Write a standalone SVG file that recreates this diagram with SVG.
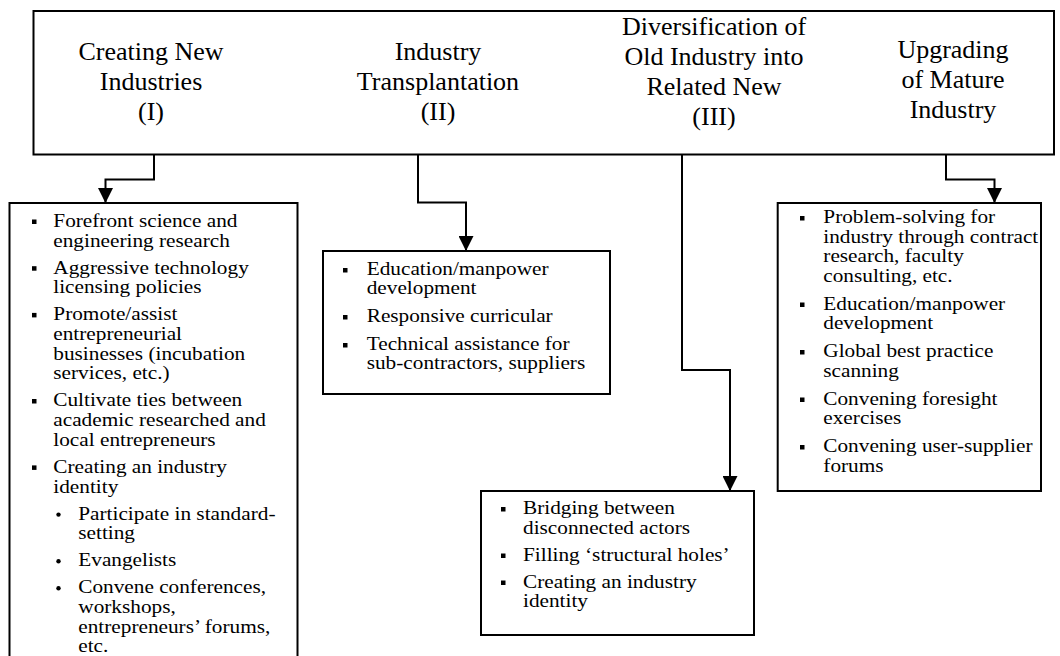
<svg xmlns="http://www.w3.org/2000/svg" width="1060" height="656" viewBox="0 0 1060 656">
  <style>
    .box { fill: #ffffff; stroke: #000000; stroke-width: 2; }
    .head { font-family: "Liberation Serif", "Times New Roman", serif; font-size: 26px; fill: #000000; text-anchor: middle; }
    .item { font-family: "Liberation Serif", "Times New Roman", serif; font-size: 19px; fill: #000000; }
    .link { fill: none; stroke: #000000; stroke-width: 2; marker-end: url(#arrow); }
    .sq { fill: #000000; }
  </style>
  <defs>
    <marker id="arrow" markerUnits="userSpaceOnUse" markerWidth="15" markerHeight="15" viewBox="0 0 14 14" refX="13" refY="7" orient="auto">
      <path d="M0,0 L14,7 L0,14 z" fill="#000000"/>
    </marker>
  </defs>
  <rect width="1060" height="656" fill="#ffffff"/>

  <!-- header bar with the four development paths -->
  <g id="paths-header">
    <rect class="box" x="33.5" y="11" width="1020.5" height="143.5"/>
    <text class="head"><tspan x="151" y="60">Creating New</tspan><tspan x="151" y="90">Industries</tspan><tspan x="151" y="120">(I)</tspan></text>
    <text class="head"><tspan x="438" y="60">Industry</tspan><tspan x="438" y="90">Transplantation</tspan><tspan x="438" y="120">(II)</tspan></text>
    <text class="head"><tspan x="714" y="35">Diversification of</tspan><tspan x="714" y="65">Old Industry into</tspan><tspan x="714" y="95">Related New</tspan><tspan x="714" y="125">(III)</tspan></text>
    <text class="head"><tspan x="953" y="58">Upgrading</tspan><tspan x="953" y="88">of Mature</tspan><tspan x="953" y="118">Industry</tspan></text>
  </g>

  <!-- connectors -->
  <g id="connectors">
    <path class="link" d="M154,155 V179.5 H105.5 V202"/>
    <path class="link" d="M418,155 V202.5 H466 V250"/>
    <path class="link" d="M682,155 V370 H730 V490"/>
    <path class="link" d="M946,155 V179.5 H994.5 V202"/>
  </g>

  <!-- I: creating new industries -->
  <g id="box-new-industries">
    <rect class="box" x="9.5" y="203" width="288" height="470"/>
    <rect class="sq" x="32" y="219.5" width="4.5" height="4.5"/>
    <rect class="sq" x="32" y="266.2" width="4.5" height="4.5"/>
    <rect class="sq" x="32" y="312.9" width="4.5" height="4.5"/>
    <rect class="sq" x="32" y="399" width="4.5" height="4.5"/>
    <rect class="sq" x="32" y="465.4" width="4.5" height="4.5"/>
    <circle cx="58.5" cy="514.6" r="2.2"/>
    <circle cx="58.5" cy="561.3" r="2.2"/>
    <circle cx="58.5" cy="588.3" r="2.2"/>
    <text class="item" transform="translate(53.3 0) scale(1.12 1)">
      <tspan x="0" y="227">Forefront science and</tspan>
      <tspan x="0" y="246.7">engineering research</tspan>
      <tspan x="0" y="273.7">Aggressive technology</tspan>
      <tspan x="0" y="293.4">licensing policies</tspan>
      <tspan x="0" y="320.4">Promote/assist</tspan>
      <tspan x="0" y="340.1">entrepreneurial</tspan>
      <tspan x="0" y="359.8">businesses (incubation</tspan>
      <tspan x="0" y="379.5">services, etc.)</tspan>
      <tspan x="0" y="406.5">Cultivate ties between</tspan>
      <tspan x="0" y="426.2">academic researched and</tspan>
      <tspan x="0" y="445.9">local entrepreneurs</tspan>
      <tspan x="0" y="472.9">Creating an industry</tspan>
      <tspan x="0" y="492.6">identity</tspan>
      <tspan x="22.3" y="519.6">Participate in standard-</tspan>
      <tspan x="22.3" y="539.3">setting</tspan>
      <tspan x="22.3" y="566.3">Evangelists</tspan>
      <tspan x="22.3" y="593.3">Convene conferences,</tspan>
      <tspan x="22.3" y="613">workshops,</tspan>
      <tspan x="22.3" y="632.7">entrepreneurs’ forums,</tspan>
      <tspan x="22.3" y="652.4">etc.</tspan>
    </text>
  </g>

  <!-- II: industry transplantation -->
  <g id="box-transplantation">
    <rect class="box" x="323" y="251" width="287" height="143"/>
    <rect class="sq" x="343" y="268" width="4.5" height="4.5"/>
    <rect class="sq" x="343" y="315" width="4.5" height="4.5"/>
    <rect class="sq" x="343" y="343" width="4.5" height="4.5"/>
    <text class="item" transform="translate(366.7 0) scale(1.12 1)">
      <tspan x="0" y="275.5">Education/manpower</tspan>
      <tspan x="0" y="294.5">development</tspan>
      <tspan x="0" y="322.5">Responsive curricular</tspan>
      <tspan x="0" y="350.5">Technical assistance for</tspan>
      <tspan x="0" y="369.5">sub-contractors, suppliers</tspan>
    </text>
  </g>

  <!-- III: diversification into related new industry -->
  <g id="box-diversification">
    <rect class="box" x="481" y="491" width="273" height="144"/>
    <rect class="sq" x="501" y="507" width="4.5" height="4.5"/>
    <rect class="sq" x="501" y="553.5" width="4.5" height="4.5"/>
    <rect class="sq" x="501" y="580.5" width="4.5" height="4.5"/>
    <text class="item" transform="translate(523 0) scale(1.12 1)">
      <tspan x="0" y="514.5">Bridging between</tspan>
      <tspan x="0" y="534">disconnected actors</tspan>
      <tspan x="0" y="561">Filling ‘structural holes’</tspan>
      <tspan x="0" y="588">Creating an industry</tspan>
      <tspan x="0" y="607.5">identity</tspan>
    </text>
  </g>

  <!-- IV: upgrading of mature industry -->
  <g id="box-upgrading">
    <rect class="box" x="777.7" y="203" width="263.3" height="288"/>
    <rect class="sq" x="800" y="216" width="4.5" height="4.5"/>
    <rect class="sq" x="800" y="302.5" width="4.5" height="4.5"/>
    <rect class="sq" x="800" y="350" width="4.5" height="4.5"/>
    <rect class="sq" x="800" y="397.5" width="4.5" height="4.5"/>
    <rect class="sq" x="800" y="445" width="4.5" height="4.5"/>
    <text class="item" transform="translate(823.3 0) scale(1.12 1)">
      <tspan x="0" y="223.5">Problem-solving for</tspan>
      <tspan x="0" y="243">industry through contract</tspan>
      <tspan x="0" y="262.5">research, faculty</tspan>
      <tspan x="0" y="282">consulting, etc.</tspan>
      <tspan x="0" y="310">Education/manpower</tspan>
      <tspan x="0" y="329.5">development</tspan>
      <tspan x="0" y="357.5">Global best practice</tspan>
      <tspan x="0" y="377">scanning</tspan>
      <tspan x="0" y="405">Convening foresight</tspan>
      <tspan x="0" y="424.5">exercises</tspan>
      <tspan x="0" y="452.5">Convening user-supplier</tspan>
      <tspan x="0" y="472">forums</tspan>
    </text>
  </g>
</svg>
